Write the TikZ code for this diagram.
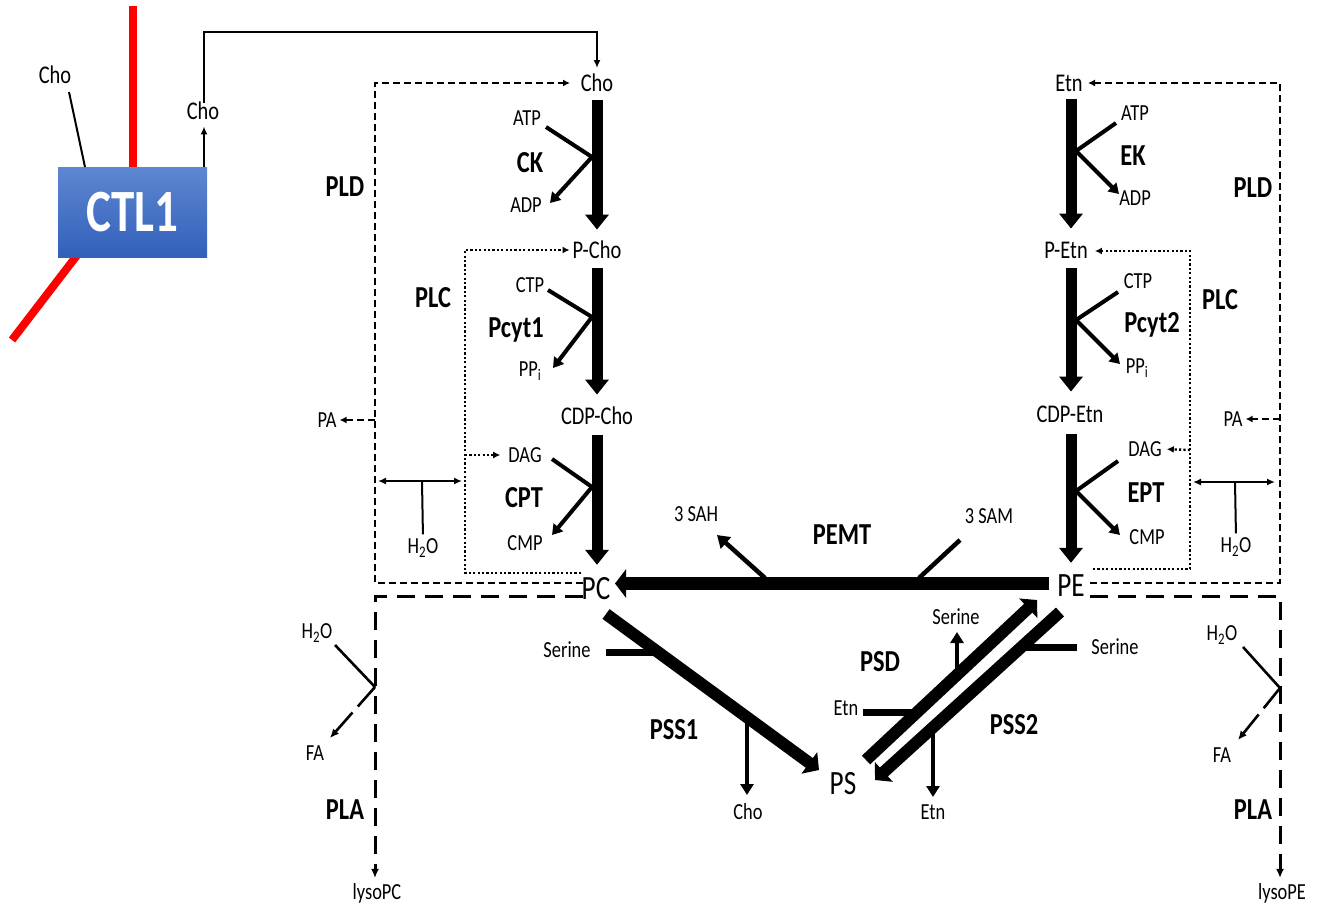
\documentclass[tikz,border=0pt]{standalone}
\usepackage{fontspec}
\setmainfont{Carlito}[FakeStretch=0.8]
\usetikzlibrary{arrows.meta}
\definecolor{membred}{RGB}{255,0,0}
\definecolor{boxtop}{RGB}{94,135,210}
\definecolor{boxbot}{RGB}{50,96,186}
\begin{document}
\begin{tikzpicture}[x=1pt,y=-1pt,
  lbl/.style={font=\fontsize{23}{23}\selectfont, inner sep=0pt},
  met/.style={font=\fontsize{25.5}{25.5}\selectfont, inner sep=0pt, text height=16.5pt, text depth=0pt},
  bigm/.style={font=\fontsize{34}{34}\selectfont, inner sep=0pt, text height=22pt, text depth=0pt},
  enz/.style={font=\fontsize{30.5}{30.5}\selectfont\bfseries, inner sep=0pt},
  mainbar/.style={line width=11pt, -{Triangle[length=15pt,width=23pt]}},
  thickbar/.style={line width=12pt, -{Triangle[length=12pt,width=26pt]}},
  side/.style={line width=4pt},
  sidearr/.style={line width=4pt, -{Triangle[length=10pt,width=12pt]}},
  branch/.style={line width=7pt},
  brarr/.style={line width=4.5pt, -{Triangle[length=11pt,width=13pt]}},
  thinl/.style={line width=2pt},
  thinarr/.style={line width=2pt, -{Latex[length=8pt,width=7pt]}},
  plddash/.style={line width=2.3pt, dash pattern=on 7pt off 4pt},
  plcdot/.style={line width=2.4pt, dash pattern=on 2.2pt off 2.2pt},
  pladash/.style={line width=3pt, dash pattern=on 18pt off 10pt},
  memb/.style={membred, line width=8pt},
  ctlbox/.style={top color=boxtop, bottom color=boxbot, draw=none,
    minimum width=149pt, minimum height=90pt, inner sep=0pt,
    text=white, font=\fontsize{60}{60}\selectfont\bfseries},
]
\useasboundingbox (0,0) rectangle (1319,908);

% ---------------- membrane and CTL1 ----------------
\draw[memb] (133,6) -- (133,170);
\draw[memb] (78,254) -- (12,340);
\node[ctlbox] (ctl) at (132.5,212) {\scalebox{0.98}[1]{CTL1}};
\node[met] (choout) at (55,75) {Cho};
\node[met] (choin) at (203,111) {Cho};
\coordinate (chooutend) at (69,92);
\coordinate (ctltopL) at (85,167);
\coordinate (ctltopR) at (204,167);
\coordinate (loopL) at (204,32);
\coordinate (loopR) at (597,32);
\draw[thinl] (chooutend) -- (ctltopL);
\draw[thinarr, shorten >=7pt] (ctltopR) -- (choin.south -| ctltopR);
\draw[thinarr] (choin.north -| loopL) -- (loopL) -- (loopR) -- ++(0,36);

% ---------------- choline (Kennedy) branch ----------------
\node[met] (cho) at (597,83) {Cho};
\node[met] (pcho) at (597,250) {P-Cho};
\node[met] (cdpcho) at (597,416) {CDP-Cho};
\node[bigm] (pc) at (596,588) {PC};
\draw[mainbar, shorten <=9pt, shorten >=12pt] (cho.south) -- (pcho.north);
\draw[mainbar, shorten <=10pt, shorten >=13pt] (pcho.south) -- (cdpcho.north);
\draw[mainbar, shorten <=11pt, shorten >=12pt] (cdpcho.south) -- (pc.north -| cdpcho.south);

% CK
\coordinate (ckj) at (592,157);
\coordinate (ckin) at (546,127);
\coordinate (ckout) at (550,203);
\draw[side] (ckin) -- (ckj);
\draw[sidearr] (ckj) -- (ckout);
\node[lbl] (atp1) at (527,118) {ATP};
\node[enz] (ck) at (530,163) {CK};
\node[lbl] (adp1) at (526,205) {ADP};
% Pcyt1
\coordinate (p1j) at (592,317);
\coordinate (p1in) at (548,290);
\coordinate (p1out) at (553,368);
\draw[side] (p1in) -- (p1j);
\draw[sidearr] (p1j) -- (p1out);
\node[lbl] (ctp1) at (530,285) {CTP};
\node[enz] (pcyt1) at (516,330) {Pcyt1};
\node[lbl] (ppi1) at (530,371) {PP\textsubscript{i}};
% CPT
\coordinate (cptj) at (592,487);
\coordinate (cptin) at (552,459);
\coordinate (cptout) at (552,535);
\draw[side] (cptin) -- (cptj);
\draw[sidearr] (cptj) -- (cptout);
\node[lbl] (dag1) at (525,455) {DAG};
\node[enz] (cpt) at (524,498) {CPT};
\node[lbl] (cmp1) at (525,543) {CMP};

% ---------------- ethanolamine branch ----------------
\node[met] (etn) at (1069,83) {Etn};
\node[met] (petn) at (1066,250) {P-Etn};
\node[met] (cdpetn) at (1070,414) {CDP-Etn};
\node[bigm] (pe) at (1071,585) {PE};
\coordinate (ecol) at (1071,0);
\draw[mainbar, shorten <=8pt, shorten >=13pt] (etn.south -| ecol) -- (petn.north -| ecol);
\draw[mainbar, shorten <=10pt, shorten >=14pt] (petn.south -| ecol) -- (cdpetn.north -| ecol);
\draw[mainbar, shorten <=12pt, shorten >=11pt] (cdpetn.south -| ecol) -- (pe.north -| ecol);
% EK
\coordinate (ekj) at (1076,151);
\coordinate (ekin) at (1116,123);
\coordinate (ekout) at (1119,194);
\draw[side] (ekin) -- (ekj);
\draw[sidearr] (ekj) -- (ekout);
\node[lbl] (atp2) at (1135,113) {ATP};
\node[enz] (ek) at (1133,156) {EK};
\node[lbl] (adp2) at (1135,198) {ADP};
% Pcyt2
\coordinate (p2j) at (1076,320);
\coordinate (p2in) at (1118,292);
\coordinate (p2out) at (1120,364);
\draw[side] (p2in) -- (p2j);
\draw[sidearr] (p2j) -- (p2out);
\node[lbl] (ctp2) at (1138,281) {CTP};
\node[enz] (pcyt2) at (1152,325) {Pcyt2};
\node[lbl] (ppi2) at (1137,368) {PP\textsubscript{i}};
% EPT
\coordinate (eptj) at (1076,491);
\coordinate (eptin) at (1118,461);
\coordinate (eptout) at (1120,535);
\draw[side] (eptin) -- (eptj);
\draw[sidearr] (eptj) -- (eptout);
\node[lbl] (dag2) at (1145,449) {DAG};
\node[enz] (ept) at (1146,493) {EPT};
\node[lbl] (cmp2) at (1147,537) {CMP};

% ---------------- PLD / PLC / PLA left ----------------
\coordinate (pldLb) at (375,583);
\coordinate (pldLt) at (375,83);
\coordinate (pldLpa) at (375,420);
\draw[plddash, -{Latex[length=7pt,width=7pt]}] (583,583) -- (pldLb) -- (pldLt) -- (570,83);
\node[lbl] (paL) at (327,420) {PA};
\draw[plddash, -{Latex[length=7pt,width=7pt]}, shorten >=3pt] (pldLpa) -- (paL.east);
\node[enz] (pldL) at (345,187) {PLD};

\coordinate (plcLb) at (465,573);
\coordinate (plcLt) at (465,250);
\coordinate (plcLdag) at (465,455);
\draw[plcdot, -{Latex[length=7pt,width=7pt]}, shorten >=3pt] (581,573) -- (plcLb) -- (plcLt) -- (pcho.west);
\draw[plcdot, -{Latex[length=7pt,width=7pt]}, shorten >=8pt] (plcLdag) -- (dag1.west);
\node[enz] (plcL) at (433,298) {PLC};

\coordinate (tLl) at (378,481);
\coordinate (tLr) at (462,481);
\coordinate (tLm) at (422,481);
\node[lbl] (h2oT1) at (423,548) {H\textsubscript{2}O};
\draw[thinl, {Latex[length=8pt,width=7pt]}-{Latex[length=8pt,width=7pt]}] (tLl) -- (tLr);
\draw[thinl, shorten >=4pt] (tLm) -- (h2oT1.north);

\coordinate (plaLc) at (375,596);
\node[lbl] (lysopc) at (377,893) {lysoPC};
\draw[pladash, -{Latex[length=9pt,width=8pt]}, shorten >=5pt] (583,596) -- (plaLc) -- (lysopc.north -| plaLc);
\coordinate (plaLj) at (375,687);
\node[lbl] (h2oA1) at (317,633) {H\textsubscript{2}O};
\node[lbl] (fa1) at (315,753) {FA};
\draw[line width=2.6pt] (335,645) -- (plaLj);
\draw[line width=2.6pt, dash pattern=on 26pt off 8pt, -{Latex[length=9pt,width=8pt]}] (plaLj) -- (330,738);
\node[enz] (plaL) at (345,810) {PLA};

% ---------------- PLD / PLC / PLA right ----------------
\coordinate (pldRb) at (1280,583);
\coordinate (pldRt) at (1280,83);
\coordinate (pldRpa) at (1280,419);
\draw[plddash, -{Latex[length=7pt,width=7pt]}] (1090,583) -- (pldRb) -- (pldRt) -- (1088,83);
\node[lbl] (paR) at (1233,419) {PA};
\draw[plddash, -{Latex[length=7pt,width=7pt]}, shorten >=3pt] (pldRpa) -- (paR.east);
\node[enz] (pldR) at (1253,188) {PLD};

\coordinate (plcRb) at (1190,569);
\coordinate (plcRt) at (1190,251);
\coordinate (plcRdag) at (1190,450);
\draw[plcdot, -{Latex[length=7pt,width=7pt]}, shorten >=7pt] (1093,569) -- (plcRb) -- (plcRt) -- (petn.east |- plcRt);
\draw[plcdot, -{Latex[length=7pt,width=7pt]}, shorten >=5pt] (plcRdag) -- (dag2.east);
\node[enz] (plcR) at (1220,300) {PLC};

\coordinate (tRl) at (1193,482);
\coordinate (tRr) at (1275,482);
\coordinate (tRm) at (1235,482);
\node[lbl] (h2oT2) at (1236,547) {H\textsubscript{2}O};
\draw[thinl, {Latex[length=8pt,width=7pt]}-{Latex[length=8pt,width=7pt]}] (tRl) -- (tRr);
\draw[thinl, shorten >=4pt] (tRm) -- (h2oT2.north);

\coordinate (plaRc) at (1280,596);
\node[lbl] (lysope) at (1282,893) {lysoPE};
\draw[pladash, -{Latex[length=9pt,width=8pt]}, shorten >=5pt] (1090,596) -- (plaRc) -- (lysope.north -| plaRc);
\coordinate (plaRj) at (1280,688);
\node[lbl] (h2oA2) at (1222,635) {H\textsubscript{2}O};
\node[lbl] (fa2) at (1222,755) {FA};
\draw[line width=2.6pt] (1243,647) -- (plaRj);
\draw[line width=2.6pt, dash pattern=on 26pt off 8pt, -{Latex[length=9pt,width=8pt]}] (plaRj) -- (1238,740);
\node[enz] (plaR) at (1253,810) {PLA};

% ---------------- PEMT ----------------
\draw[line width=13pt, -{Triangle[length=11pt,width=28pt]}] (1049,583.5) -- (615,583.5);
\node[lbl] (sah) at (696,514) {3 SAH};
\node[lbl] (sam) at (989,516) {3 SAM};
\node[enz] (pemt) at (842,535) {PEMT};
\draw[line width=4.5pt, -{Triangle[length=12pt,width=15pt]}] (765,578) -- (717,535);
\draw[line width=4.5pt] (919,578) -- (960,540);

% ---------------- PS reactions ----------------
\node[bigm] (ps) at (843,783) {PS};
% PSS1
\draw[thickbar] (606,614) -- (819,770);
\draw[branch] (606,652) -- (660,652);
\draw[brarr] (747,716) -- (747,795);
\node[lbl] (ser1) at (567,650) {Serine};
\node[lbl] (cho3) at (748,812) {Cho};
\node[enz] (pss1) at (674,730) {PSS1};
% PSD
\draw[thickbar] (866,760) -- (1037,600);
\draw[branch] (863,712) -- (919,712);
\draw[brarr] (957,676) -- (957,632);
\node[lbl] (ser2) at (956,617) {Serine};
\node[lbl] (etn2) at (846,708) {Etn};
\node[enz] (psd) at (880,662) {PSD};
% PSS2
\draw[thickbar] (1060,612) -- (875,780);
\draw[branch] (1019,647) -- (1077,647);
\draw[brarr] (933,724) -- (933,797);
\node[lbl] (ser3) at (1115,647) {Serine};
\node[lbl] (etn3) at (933,812) {Etn};
\node[enz] (pss2) at (1014,725) {PSS2};
\end{tikzpicture}
\end{document}
